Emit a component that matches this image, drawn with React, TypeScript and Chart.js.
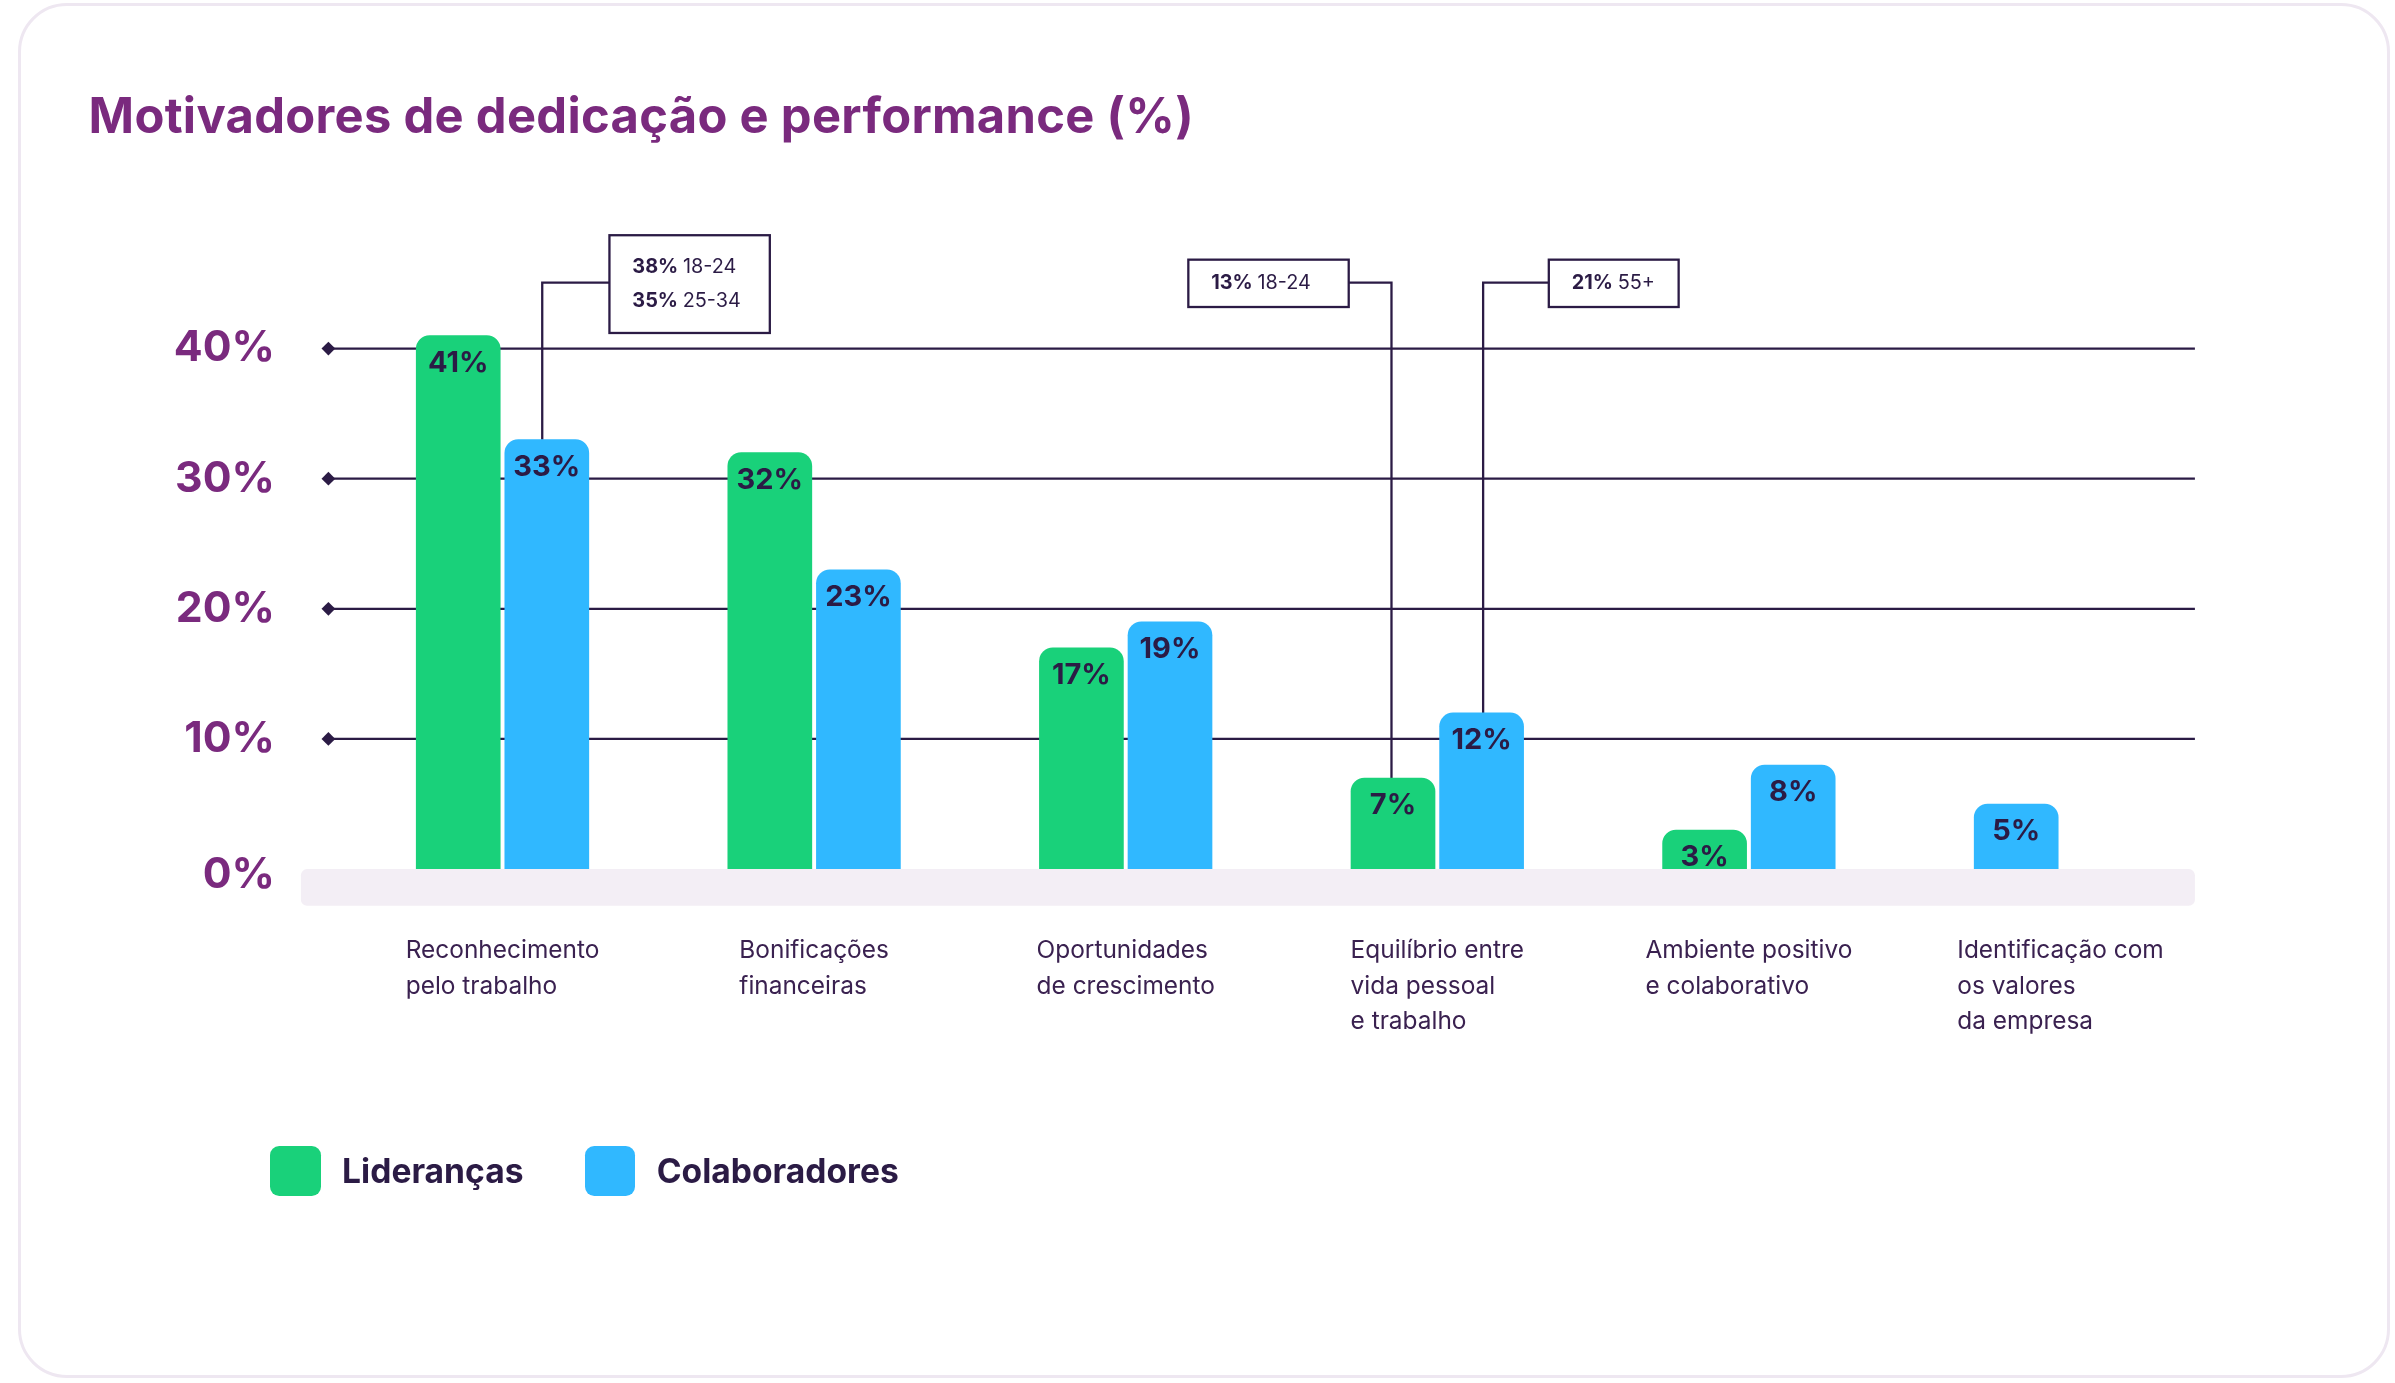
import React, { useEffect, useRef } from "react";
import { Chart, registerables } from "chart.js";
Chart.register(...registerables);

const S = 2395 / 1568;
const FONT = "Inter, 'Open Sans', sans-serif";
const categories = [
  ["Reconhecimento", "pelo trabalho"],
  ["Bonificações", "financeiras"],
  ["Oportunidades", "de crescimento"],
  ["Equilíbrio entre", "vida pessoal", "e trabalho"],
  ["Ambiente positivo", "e colaborativo"],
  ["Identificação com", "os valores", "da empresa"],
];
const liderancas: (number | null)[] = [41, 32, 17, 7, 3, null];
const colaboradores = [33, 23, 19, 12, 8, 5];
const yTicks = [0, 10, 20, 30, 40];
const GREEN = "#19D17A";
const BLUE = "#30B8FF";
const PURPLE = "#7A2A7E";
const DARK = "#2B1B45";
const OFF = 29 / 204;

const plugin = {
  id: "custom",
  beforeDatasetsDraw(chart: any) {
    const ctx = chart.ctx;
    const y = chart.scales.y;
    ctx.save();
    ctx.fillStyle = "#F3EEF5";
    const y0 = y.getPixelForValue(0);
    ctx.beginPath();
    ctx.roundRect(197 * S, y0, 1240 * S, 24 * S, 4 * S);
    ctx.fill();
    ctx.strokeStyle = DARK;
    ctx.lineWidth = 1.5 * S;
    ctx.fillStyle = DARK;
    yTicks.forEach((t) => {
      const py = y.getPixelForValue(t);
      if (t > 0) {
        ctx.beginPath();
        ctx.moveTo(215 * S, py);
        ctx.lineTo(1437 * S, py);
        ctx.stroke();
        ctx.beginPath();
        const d = 4.5 * S;
        ctx.moveTo(215 * S - d, py);
        ctx.lineTo(215 * S, py - d);
        ctx.lineTo(215 * S + d, py);
        ctx.lineTo(215 * S, py + d);
        ctx.closePath();
        ctx.fill();
      }
    });
    ctx.fillStyle = PURPLE;
    ctx.font = `700 ${28 * S}px ${FONT}`;
    ctx.textAlign = "right";
    ctx.textBaseline = "middle";
    yTicks.forEach((t) => {
      const py = t === 0 ? y.getPixelForValue(0) + 4 * S : y.getPixelForValue(t);
      ctx.fillText(t + "%", 180 * S, py);
    });
    const x = chart.scales.x;
    ctx.fillStyle = "#3A2150";
    ctx.font = `400 ${16 * S}px ${FONT}`;
    ctx.textAlign = "left";
    ctx.textBaseline = "alphabetic";
    categories.forEach((lines, i) => {
      const w = Math.max(...lines.map((l) => ctx.measureText(l).width));
      const cx = x.getPixelForValue(i);
      lines.forEach((l, j) => ctx.fillText(l, cx - w / 2, (627 + j * 23.5) * S));
    });
    const gb = chart.getDatasetMeta(0).data;
    const bb = chart.getDatasetMeta(1).data;
    ctx.strokeStyle = DARK;
    ctx.lineWidth = 1.5 * S;
    const line = (bx: number, by: number, fromX: number) => {
      ctx.beginPath();
      ctx.moveTo(fromX, 185 * S);
      ctx.lineTo(bx, 185 * S);
      ctx.lineTo(bx, by);
      ctx.stroke();
    };
    line(bb[0].x - 3 * S, bb[0].y, 399 * S);
    line(gb[3].x - 1 * S, gb[3].y, 883 * S);
    line(bb[3].x + 1 * S, bb[3].y, 1014 * S);
    const box = (bx: number, by: number, w: number, h: number, rows: [string, string][]) => {
      ctx.fillStyle = "#fff";
      ctx.fillRect(bx * S, by * S, w * S, h * S);
      ctx.strokeRect(bx * S, by * S, w * S, h * S);
      ctx.textBaseline = "middle";
      rows.forEach(([b, r], j) => {
        const ty = (by + (rows.length === 1 ? h / 2 : 21 + j * 22)) * S;
        ctx.fillStyle = DARK;
        ctx.font = `700 ${13 * S}px ${FONT}`;
        ctx.fillText(b, (bx + 15) * S, ty);
        const bw = ctx.measureText(b + " ").width;
        ctx.font = `400 ${13 * S}px ${FONT}`;
        ctx.fillText(r, (bx + 15) * S + bw, ty);
      });
    };
    box(399, 154, 105, 64, [["38%", "18-24"], ["35%", "25-34"]]);
    box(778, 170, 105, 31, [["13%", "18-24"]]);
    box(1014, 170, 85, 31, [["21%", "55+"]]);
    ctx.restore();
  },
  afterDatasetsDraw(chart: any) {
    const ctx = chart.ctx;
    ctx.save();
    ctx.fillStyle = DARK;
    ctx.font = `700 ${19 * S}px ${FONT}`;
    ctx.textAlign = "center";
    ctx.textBaseline = "middle";
    chart.data.datasets.forEach((ds: any, di: number) => {
      chart.getDatasetMeta(di).data.forEach((el: any, i: number) => {
        const v = ds.data[i]?.y;
        if (v == null) return;
        ctx.fillText(v + "%", el.x, el.y + 18 * S);
      });
    });
    ctx.restore();
  },
};

export default function App() {
  const ref = useRef<HTMLCanvasElement>(null);
  useEffect(() => {
    const greenData = liderancas
      .map((v, i) => ({ x: i - OFF, y: v }))
      .filter((d) => d.y != null);
    const blueData = colaboradores.map((v, i) => ({
      x: liderancas[i] == null ? i - OFF : i + OFF,
      y: v,
    }));
    const common = {
      barThickness: 55 * S,
      borderRadius: { topLeft: 9 * S, topRight: 9 * S, bottomLeft: 0, bottomRight: 0 },
      borderSkipped: false,
      grouped: false,
    };
    const chart = new Chart(ref.current!, {
      type: "bar",
      data: {
        datasets: [
          { label: "Lideranças", data: greenData as any, backgroundColor: GREEN, ...common },
          { label: "Colaboradores", data: blueData as any, backgroundColor: BLUE, ...common },
        ],
      },
      options: {
        animation: false,
        responsive: false,
        devicePixelRatio: 1,
        layout: {
          padding: { left: 227 * S, right: 2395 - 1451 * S, top: 185.6 * S, bottom: 1383 - 569 * S },
        },
        scales: {
          x: { type: "linear", min: -0.5, max: 5.5, offset: false, display: false },
          y: { min: 0, max: 45, display: false },
        },
        plugins: { legend: { display: false }, tooltip: { enabled: false } },
      },
      plugins: [plugin],
    });
    return () => chart.destroy();
  }, []);
  const legendItem = (left: number, color: string, text: string) => (
    <div style={{ position: "absolute", left: left * S, top: 750 * S, display: "flex", alignItems: "center" }}>
      <div style={{ width: 33 * S, height: 33 * S, borderRadius: 6 * S, background: color }} />
      <span style={{ marginLeft: 14 * S, fontFamily: FONT, fontWeight: 700, fontSize: 22 * S, color: DARK }}>{text}</span>
    </div>
  );
  return (
    <div style={{ position: "fixed", left: 0, top: 0, width: 2395, height: 1383, background: "#fff", overflow: "hidden" }}>
      <div style={{ position: "absolute", left: 12 * S, top: 2 * S, width: 1553 * S, height: 900 * S, border: `${2 * S}px solid #EEE7F1`, borderRadius: 32 * S, boxSizing: "border-box" }} />
      <div style={{ position: "absolute", left: 58 * S, top: 56 * S, fontFamily: FONT, fontWeight: 700, fontSize: 32 * S, color: PURPLE, letterSpacing: 0.3 }}>
        Motivadores de dedicação e performance (%)
      </div>
      <canvas ref={ref} width={2395} height={1383} style={{ position: "absolute", left: 0, top: 0 }} />
      {legendItem(177, GREEN, "Lideranças")}
      {legendItem(383, BLUE, "Colaboradores")}
    </div>
  );
}
